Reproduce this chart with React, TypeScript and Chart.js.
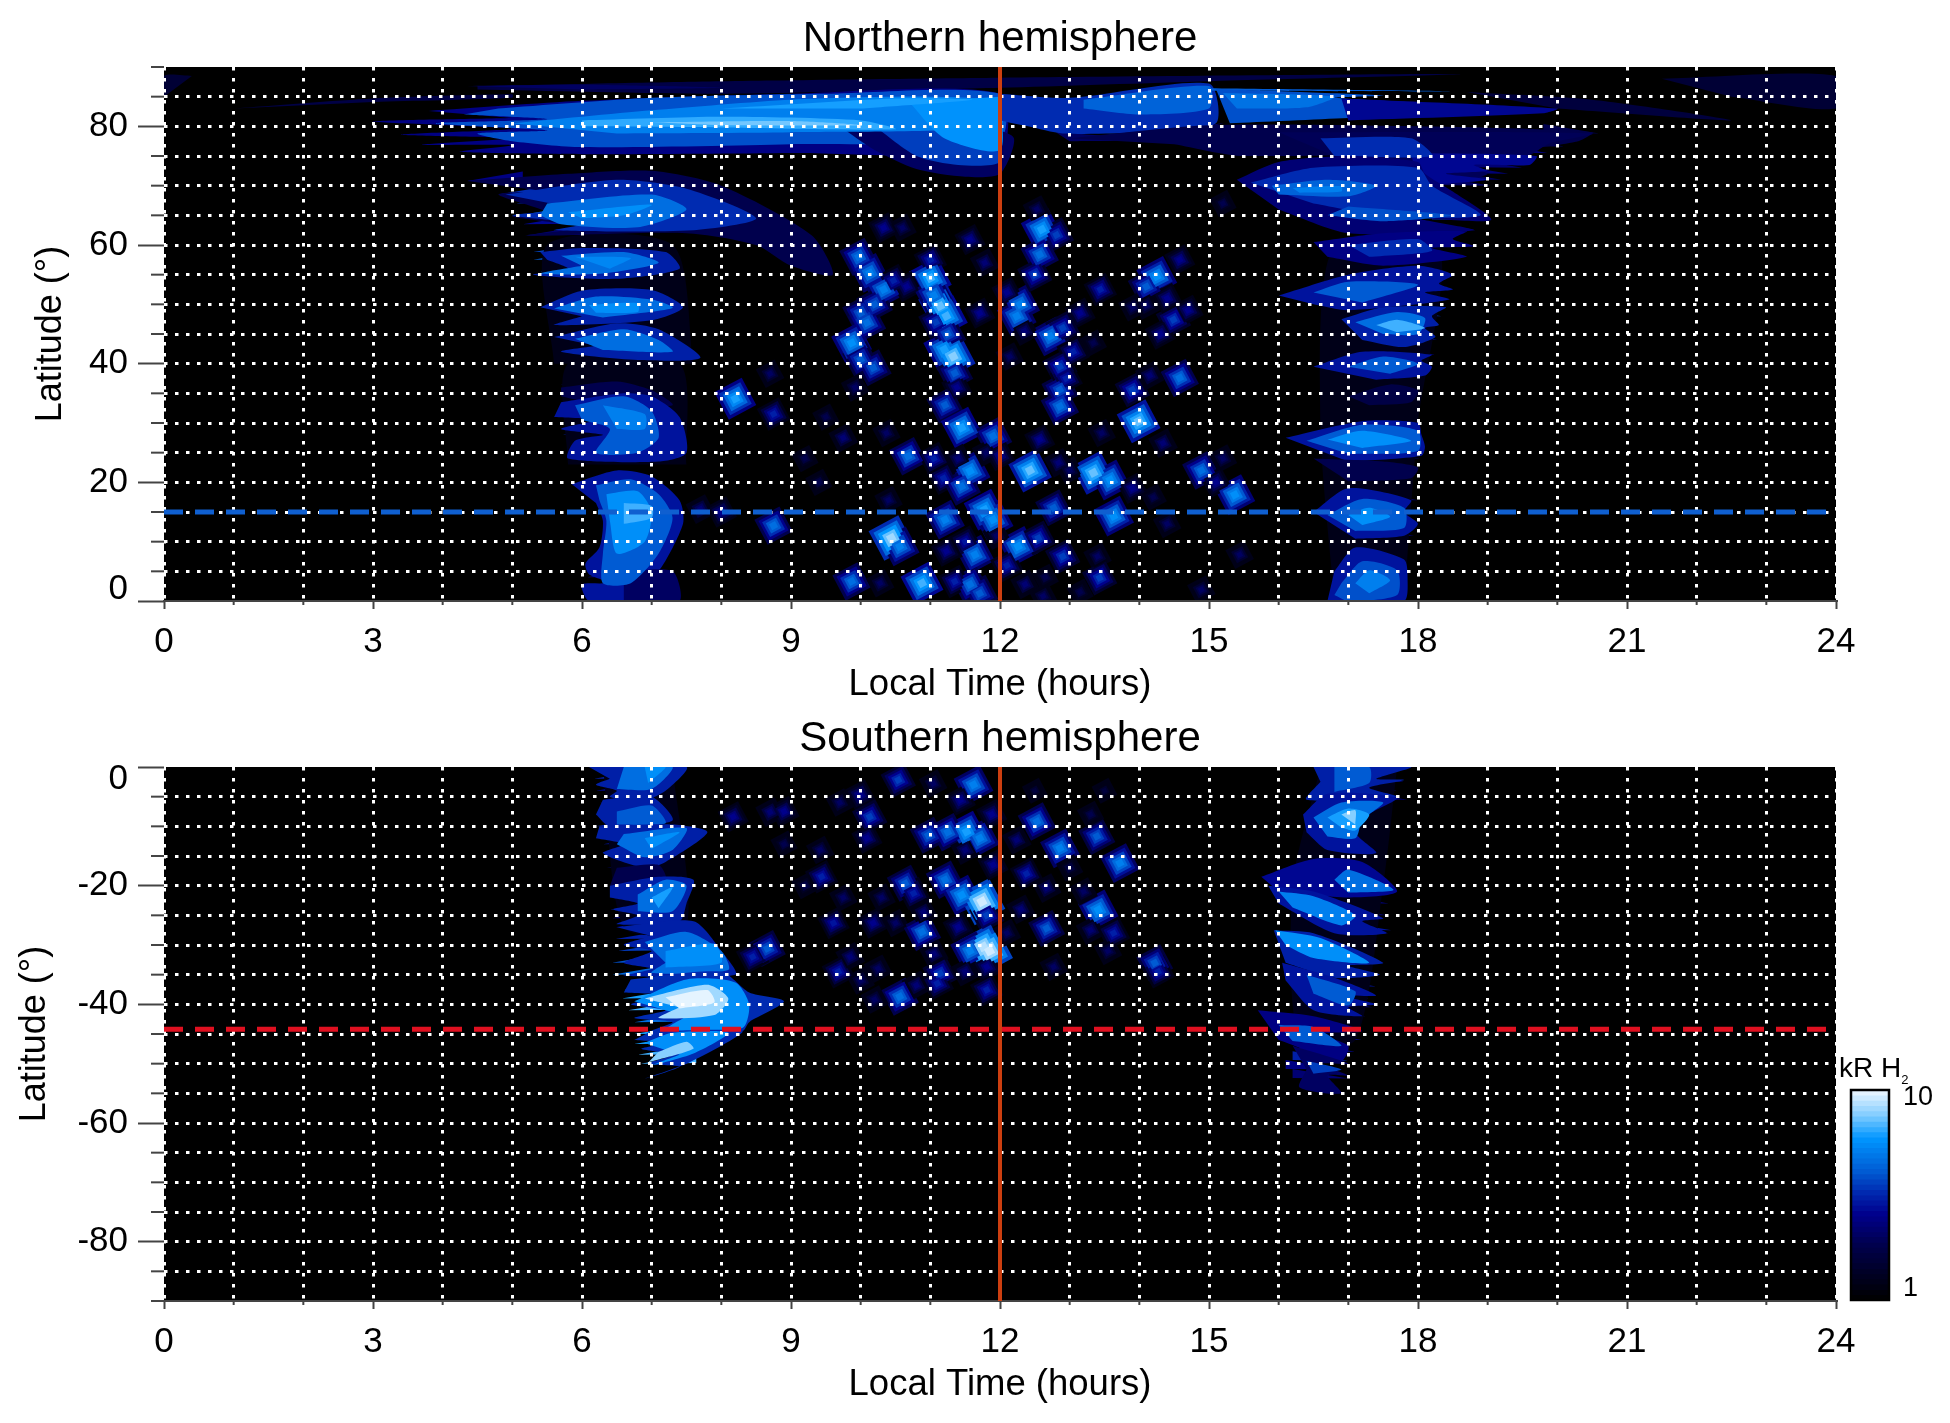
import { useEffect, useRef } from 'react'
import Chart from 'chart.js/auto'

const FONT = '"Liberation Sans", Arial, sans-serif'

const hourTicksMajor = 3
const noonLT = 12
const northRefLat = 15
const southRefLat = -44.2

// every patch: kR level, then lt,lat pairs going round the outline. Dim first, bright on top.
const northPolarPatches: number[][] = [
  [1.7, 4.5,86.8, 8,87.6, 12,88.2, 18.6,88.8, 15,87.6, 12,86.5, 8,85.5, 4.5,86.2],
  [1.7, 1,83, 3,84.7, 5,85.4, 5,84.8, 3,84.1],
  [1.5, 0,85, 0,88.5, 0.4,88.5],
  [1.5, 21.5,88, 24,88.5, 24,83, 22.5,85],
  [1.6, 18.7,85.8, 20.5,84.5, 22.5,81, 20,83],
  [2.4, 3.8,82.6, 6,84.3, 9,85.5, 12,85.5, 12,76, 9,75.5, 6,75.3, 4.25,75.7, 5,76.8, 3.7,76.9, 5,78, 3.4,78.6, 5,79.6, 3,80.8, 5,81.4],
  [2, 4.35,86.8, 6,87, 8,86.5, 6,86.2],
  [3.8, 4.8,83, 7,84.8, 9.5,85.5, 12,85.5, 12,78, 9,77, 6,76.5, 5,77.5, 4.5,78.8, 5.5,79.3, 3.9,80.5, 5.5,81.2, 4.3,82],
  [2, 9.7,80, 10.2,76, 10.8,72.8, 11.5,71.5, 12,72, 12.2,78, 11.8,80],
  [3.5, 10.2,80, 10.8,75, 11.4,73.5, 12,74, 12,80],
  [5, 5,80.5, 7,82.7, 9,84.5, 11,85, 12,84, 12,80, 9,79, 6.5,78.8],
  [5.6, 10.7,84, 11.2,78, 12,76, 12,85],
  [6.3, 6,81, 8,81.6, 10,81, 10.5,79.5, 8,79.8, 6,80],
  [6, 8,83, 10.5,84.7, 11.6,84.5, 10,83],
  [7.2, 7,80.7, 9,80.9, 10,80.2, 8,80.2],
  [2, 12.8,79, 13.8,78.4, 15.2,80.5, 14,77.8, 13,77.5],
  [3.2, 12,85.5, 13,84.8, 15,87.2, 15.1,80.5, 14,79, 12.9,78.8, 12.4,80, 12,81],
  [4.2, 13.2,84.5, 15,86.8, 15,83, 14,82, 13.2,83],
  [4, 15,86.4, 18.5,85.9, 15,86],
  [3.8, 15.1,86.3, 17.5,85.2, 16.8,84.8, 19.7,82.7, 17,81.4, 15.3,80.5],
  [4.6, 15.2,85.6, 16.8,85, 16.4,83.2, 15.4,83],
  [2.6, 16.9,84.7, 20,83, 19.8,82.2, 17,81],
]

const northDawnPatches: number[][] = [
  [1.8, 4.35,70.8, 5.8,72, 7,72.5, 8,70, 9.3,61.6, 9.6,55, 9,56.5, 8.5,60, 7.5,62, 5.2,61.6, 6,63, 5,64.8, 5.5,65.5, 4.8,68.5, 5.5,69],
  [3.2, 4.9,68.5, 6.5,71, 7.5,69.5, 8.5,64.5, 7.6,62.5, 5.6,62.5, 6,63.5, 5,65, 6,66],
  [4.5, 5.5,67, 7,68.5, 7.5,66, 6.8,63, 5.7,63.5, 5.4,65],
  [5.5, 5.8,65.5, 7,66.8, 6.6,65, 6,64.5],
  [3, 5.4,58.8, 6,59.5, 7.2,58.8, 7.4,56, 6.5,54.3, 5.3,55, 5.8,56, 5.5,57.5],
  [4.5, 5.7,58.2, 6.6,58.8, 7.1,57, 6.3,55.2, 5.4,55.2, 6,56.5],
  [5.2, 5.9,58, 6.7,57.8, 6.4,56],
  [3, 5.4,49.5, 6,52.3, 7,52.4, 7.45,49.5, 7,47.3, 5.6,46.5, 6,48],
  [4.5, 5.6,49.3, 6.2,51.3, 7,50.8, 7.3,49.4, 6.3,47.8],
  [5.5, 6.1,49.9, 6.8,50.2, 6.8,48.7, 6.2,48.6],
  [3, 5.6,44.5, 6.5,46.8, 7.1,45.8, 7.7,41, 6.8,40.6, 5.7,42, 6.2,43],
  [4.5, 5.9,44.2, 6.6,45.8, 7.1,44, 7.3,42, 6.3,42.3],
  [1.8, 5.7,36, 6.5,37, 7,35.5, 7.3,33, 6.3,33, 5.7,34.5],
  [2.8, 5.7,33.5, 6.6,35, 7,34.5, 7.4,31, 7.5,25, 7.1,23.5, 5.8,24, 5.9,27, 6.3,28, 5.7,29, 6.2,30.5, 5.6,31],
  [4, 5.9,33, 6.6,34.5, 7,32, 7.1,27.5, 6.8,25, 6.2,25, 6.4,29, 6,30.5],
  [5, 6.3,33, 6.9,31.5, 6.9,29, 6.5,29],
  [2.8, 5.85,19.7, 6.5,22, 7,21, 7.4,17, 7.45,13, 7.1,5, 6.6,0, 6.1,0, 6,2.8, 6.4,3, 6.1,4.5, 6.05,6.3, 6.25,9, 6.3,13.5, 6.2,16.5],
  [2, 6.6,5, 7.3,5, 7.4,0, 6.6,0],
  [4, 6.2,19.5, 6.7,20.5, 7.1,18, 7.3,14, 7.1,8, 6.7,3, 6.3,3, 6.3,8, 6.35,13.5, 6.25,17],
  [5.5, 6.35,18, 6.8,18.5, 7,15, 6.9,10, 6.5,8, 6.4,13.5],
  [6.5, 6.6,16.5, 7,16, 7,14, 6.6,13],
]

const northDuskPatches: number[][] = [
  [1.8, 13,78, 15,80.2, 18,80, 20.5,79, 20.3,77.5, 19.5,76.2, 15.5,75, 14.5,77],
  [1.9, 16,79, 20.5,78.8, 19.9,77.2, 19.7,75.8, 19.5,74.5, 18.7,73.5, 19,72, 18.6,70.8, 18,71, 17,74],
  [2.6, 17.9,75.5, 19.7,75, 19.6,73.5, 18.8,73.5, 19,72.5, 18.4,72, 19,71, 18,70],
  [3.2, 16.6,78, 17.9,78, 18.2,75, 16.8,75],
  [2.2, 15.4,71, 16,74, 17,75, 18,74, 18.1,72, 18.5,69, 19.05,64.2, 18,64.5, 18.8,62.5, 17,62, 16,66],
  [3.2, 15.6,70.5, 16.5,73, 18,73, 18.2,70, 18.9,65, 17.5,65, 16.5,67],
  [4.2, 15.9,70, 16.7,71, 17.4,70, 17,68.2, 16,68.5],
  [5, 16.2,69.6, 16.9,69.9, 16.9,69, 16.3,68.8],
  [3.8, 17,66.5, 18.5,65, 17.5,64, 16.7,65],
  [2.4, 16.5,60.5, 17.5,62, 18.7,62.3, 18.5,61, 18.8,59.8, 18.2,59.5, 18.7,58, 17.5,56.5, 16.7,58],
  [3.2, 17,60, 18,61, 18.2,59, 17.3,58],
  [2.8, 16,51.5, 17,55, 18,56.5, 18.5,55, 18.3,53.5, 18.5,52.5, 18.1,52, 18.45,50.8, 17,49, 16.5,50],
  [4, 16.5,52, 17,53.8, 18,53.3, 17.2,50.3],
  [3, 16.9,47.5, 17.5,49.5, 18.4,49.5, 18.2,48, 18.3,46.5, 18.1,46, 18.25,44.5, 17.8,42.8, 17.2,44],
  [4.5, 17.1,47, 17.7,48.7, 18.1,47.7, 18,45, 17.5,45],
  [6.5, 17.4,46.5, 17.7,47.4, 18.1,46, 17.7,45.3],
  [2.8, 16.5,39.5, 17.2,42, 18.2,41.5, 18.05,40.5, 18.2,39.5, 18.1,38, 17.4,37.3],
  [4, 17,39.5, 17.5,41.2, 18,40, 17.6,38.3],
  [1.7, 17,34.5, 17.6,36.5, 18,35.5, 17.9,33.5, 17.3,33],
  [2.8, 16.1,27.5, 17.2,30.3, 18,30, 18.05,28, 18.1,26, 18.05,24.5, 17,23.5],
  [4, 16.4,27, 17.2,29.7, 18,28.7, 18,25.3, 17,24.8],
  [5.5, 16.7,27.2, 17.2,28.7, 17.9,27, 17.2,25.8],
  [1.8, 16.5,24, 17.5,23.5, 18,22.5, 17.9,20.7, 17,20.2],
  [2.8, 16.5,15, 17,19, 17.9,17, 17.8,15, 18,13, 17.8,11, 17.1,10.5],
  [4, 16.7,14.5, 17.2,17.2, 17.8,15.7, 17.8,12.3, 17.1,11.8],
  [5.5, 17,14.5, 17.3,15.7, 17.6,14.2, 17.2,12.8],
  [2.8, 16.8,5, 17.1,9, 17.8,7, 17.85,4, 17.8,0, 16.7,0],
  [3.8, 16.9,3, 17.2,6.7, 17.7,5.2, 17.7,1, 17,0, 16.8,1],
  [5, 17.1,3, 17.3,5.2, 17.6,3.5, 17.3,1.3],
]

const southDawnPatches: number[][] = [
  [3, 6.1,0, 7.5,0, 7.2,-4, 6.8,-6, 6.4,-5, 6.5,-4, 6.2,-3, 6.4,-2],
  [4.5, 6.6,0, 7.3,0, 7,-3.7, 6.5,-3.7],
  [5.5, 6.9,0, 7.2,0, 6.95,-2.7],
  [3, 6.3,-5.5, 7,-5, 7.3,-9, 6.4,-10, 6.2,-8],
  [4, 6.5,-7.5, 7,-6.5, 7.2,-9.5, 6.5,-9.7],
  [3, 6.25,-10, 7.3,-9.7, 7.8,-11, 7.2,-16, 6.9,-17, 6.3,-14.5, 6.6,-13, 6.2,-12],
  [4.5, 6.6,-11.3, 7.5,-10.3, 7.3,-14, 6.9,-15.2, 6.5,-13],
  [5.5, 6.9,-12, 7.4,-11, 7,-13.8],
  [1.8, 6.5,-17, 7.1,-16.5, 7.2,-19, 6.4,-20],
  [3, 6.4,-20, 7.1,-18.5, 7.6,-19, 7.5,-23, 7.4,-26, 6.5,-26.5, 6.8,-25, 6.45,-24, 6.8,-23, 6.4,-22],
  [4.5, 6.8,-21.5, 7.2,-19, 7.5,-20, 7.3,-24.3, 6.8,-24.3],
  [6, 7,-22, 7.3,-20.3, 7.1,-23.8],
  [3, 6.5,-27, 7.6,-26, 8,-31, 8.2,-35, 6.6,-35.2, 7,-34, 6.6,-33, 7,-31, 6.6,-30, 7,-28.5],
  [4.5, 6.9,-29.5, 7.5,-27.8, 8,-31, 8.1,-34.2, 7,-34.7, 7.2,-33],
  [5.5, 7.2,-31, 7.9,-29.8, 8,-33, 7.2,-33.8],
  [3.2, 6.7,-35.8, 8,-34.5, 8.4,-38, 8.9,-39.5, 8.4,-43, 8.3,-44.5, 7,-44.5, 7.3,-43, 6.75,-42.3, 7.2,-41, 6.7,-40, 7.2,-38.5, 6.6,-38],
  [5.5, 6.75,-39.5, 7.5,-35.8, 8.2,-36.3, 8.4,-40, 8.3,-44, 7.2,-44.3, 7.5,-42],
  [8, 6.9,-39, 7.8,-36.7, 8.1,-39, 7.9,-41.8, 7.1,-42.3, 7.4,-40.5],
  [9.5, 7.2,-38.8, 7.8,-37.6, 7.9,-39.7, 7.4,-40.7],
  [3.2, 7,-44.5, 8.3,-44.5, 8,-47, 7.5,-50, 6.9,-52.5, 7.4,-50.5, 6.95,-50, 7.3,-48.5, 6.85,-47.5, 7.2,-46.5, 6.75,-46],
  [5.5, 6.9,-46.5, 7.3,-44.8, 8.1,-44.8, 7.6,-48.3, 7,-50.3, 7.4,-48.5],
  [7.5, 6.95,-49.8, 7.6,-47.5, 7.5,-46.3, 7.1,-48],
]

const southDuskPatches: number[][] = [
  [3, 16.5,0, 17.9,0, 17.4,-2, 17.8,-2.2, 17.3,-3.5, 17.7,-5, 16.4,-5.5, 16.6,-2.5],
  [4, 16.8,0, 17.3,0, 17.3,-2.7, 16.8,-4.2],
  [2.8, 16.35,-8, 16.7,-4.5, 17.7,-5.2, 17.3,-8, 17.1,-11, 17.4,-14.5, 16.7,-14, 16.4,-11],
  [4.5, 16.5,-8.5, 16.9,-6, 17.5,-6, 17.2,-9, 17.1,-12, 16.7,-11.7],
  [6, 16.7,-8.5, 17,-7, 17.3,-8, 17.1,-10.7, 16.9,-10.2],
  [7.5, 16.9,-8, 17.1,-7.3, 17.1,-9.7],
  [2.6, 15.75,-18.5, 16.5,-15.5, 17.2,-16, 17.7,-21, 17,-22, 16,-21],
  [4.5, 16.8,-19, 17,-17.3, 17.65,-20.7, 17,-21.2],
  [2.8, 15.85,-20, 16.5,-21, 17.5,-25.5, 17.2,-26, 17.55,-28, 16.8,-28, 16,-23],
  [5, 16,-21, 16.5,-21.8, 17.1,-25, 16.9,-26.7, 16.2,-23.7],
  [3, 15.93,-27.5, 16.5,-28, 17.5,-33, 17,-33.5, 17.45,-35, 16.8,-35.5, 16.1,-33],
  [5.5, 15.95,-27.5, 16.6,-28.8, 17.3,-33, 16.5,-32.2, 16.1,-30],
  [2.8, 16.05,-33, 16.8,-35.5, 17.4,-38.5, 16.9,-38.5, 17.4,-40, 17,-40.5, 17.2,-42, 16.5,-41, 16.1,-36],
  [4, 16.4,-35, 17.1,-37.8, 17,-40.2, 16.5,-38.2],
  [2.4, 15.7,-41, 16.5,-42, 17.2,-44.5, 16.6,-45, 17,-47, 16.9,-49.5, 16,-46],
  [4, 16,-43.5, 16.5,-43.8, 16.9,-47, 16.2,-46.2],
  [2, 16.2,-47, 17,-50, 16.6,-50, 17,-52, 16.7,-52, 16.9,-55, 16.3,-54, 16.4,-51],
  [3.5, 16.4,-49.5, 16.9,-51, 16.5,-51.7],
]

// dim glow behind the terminator columns
const northUnderlay: number[][] = [
  [1.2, 5.6,40, 5.5,60, 7.3,60, 7.6,40],
  [1.2, 5.8,23, 5.8,40, 7.4,40, 7.5,23],
  [1.2, 16.8,0, 16.6,30, 16.8,60, 18.3,60, 18,30, 17.8,0],
]

const southUnderlay: number[][] = [
  [1.2, 6.3,0, 6.6,-27, 7.5,-27, 7.3,0],
  [1.2, 16.6,0, 16.2,-20, 16.3,-46, 17.1,-46, 17.5,-20, 17.7,0],
]

// feather tips along the lobe edges: lat, tip lt, kR
const northDawnTeeth: number[][] = [
  [70.8,4.35,2.4],[68.5,4.8,3.2],[67,5.05,3],[64.8,5,4],[63.5,5.15,2.6],[61.6,5.2,2.2],[58.8,5.3,3.6],[57.5,5.3,4],
  [55.5,5.4,4.2],[53,5.55,2.2],[51,5.5,3],[49.5,5.45,4],[47,5.5,3],[45,5.6,3],[43,5.63,2.6],[41,5.63,2],[36.5,5.68,1.8],
  [34.5,5.72,2.4],[32,5.68,3.2],[30,5.72,3],[28,5.72,3],[26,5.8,2.4],[24,5.85,2],[19.7,5.85,4],[6,6.03,2.4],[4,6.07,2.6],
  [2.5,6.07,3],[1,6.12,3],
]

const northDuskTeeth: number[][] = [
  [78.8,20.6,1.8],[77.5,20.3,1.8],[76.6,20.1,2],[75.5,19.86,2.4],[74.5,19.7,2.4],[73,19.5,2.2],[72,19.3,2.2],[71,19.2,2],
  [70,19.05,2],[64.2,19,3],[62.5,18.83,2.4],[60,18.7,2],[58,18.5,2],[55,18.5,2],[52.5,18.4,2.2],[50,18.34,2.4],
  [48,18.34,3.2],[46,18.2,4],[44,18.28,2.6],[41.5,18.25,2.4],[39,18.2,2.4],[30,18.03,2.2],[28,18.03,2.8],[26,18.03,2.4],
  [24,18.03,2],[17,18,2.2],[15,17.95,2.8],[13,18,2.6],[11,17.95,2.2],[8,17.8,2.2],[5,17.85,2.6],[2,17.85,2.6],[0.5,17.8,2.6],
]

const southDawnTeeth: number[][] = [
  [-2,6.17,3],[-4,6.2,2.6],[-6,6.25,2.2],[-8,6.2,2.6],[-10,6.2,3],[-11,6.25,3],[-13,6.3,2.8],[-15,6.35,2.2],[-17,6.35,1.8],
  [-20,6.4,2.4],[-22,6.43,3],[-24,6.4,3],[-25.5,6.43,2.6],[-27,6.48,2.6],[-29,6.48,3],[-31,6.52,3.4],[-33,6.43,3.8],
  [-35,6.43,4.2],[-37.5,6.6,5],[-39,6.57,6],[-41,6.66,6.5],[-43,6.75,4.5],[-45,6.75,6],[-46.7,6.75,6],[-48.5,6.8,6.5],
  [-50,6.84,6.5],
]

const southDuskTeeth: number[][] = [
  [-0.5,17.85,2.6],[-2.5,17.8,2.6],[-4,17.7,2.2],[-5.5,17.85,2.2],[-21,17.67,3],[-23,17.58,2.4],[-25,17.55,2.4],[-27.5,17.62,2.8],
  [-28,17.58,2.4],[-32,17.36,3],[-33,17.45,3.6],[-35,17.45,3.2],[-37,17.4,2.8],[-39,17.3,2.8],[-40.5,17.35,2.2],[-42,17.25,2.2],
  [-44,17.15,2.2],[-46,17.2,2.4],[-48,17.1,2.6],[-49.5,17,3],[-51,16.9,2.4],[-52.5,17,2.2],
]

// small bright spots around noon: lt, lat, kR
const northSpecks: number[][] = [
  [10.33,62.9,2.5],[10.6,62.9,2],[9.97,58,4.5],[10.13,55.3,5],[10.33,52.5,5],[10,48.5,4],[10.09,46.9,4.5],
  [9.87,43.5,5.5],[10,40.7,4],[10.18,39.3,4],[9.92,36,2],[11,57.5,3],[11,54.4,6.5],[11.14,49.7,7],[11.23,48,6.5],
  [11.2,42.4,6],[11.33,41.2,7.5],[11.35,38.4,4],[11.38,36,2.5],[11.57,60.9,2.5],[11.78,57,2.2],[11.71,48.5,2.5],
  [10.66,53,2.5],[12.29,50,5],[12.24,48,5],[12.1,52,2.5],[12.6,62.6,6],[12.81,61.7,3.5],[12.57,58.4,4.5],
  [12.5,55,3.5],[12.53,66,2],[13.44,52.5,3],[13.15,48.5,2.5],[12.72,44.6,5],[12.9,46,3.5],[12.86,39.5,3.5],
  [12.86,35.6,4],[12.14,41.2,2],[13.34,43.5,1.8],[14.25,54.7,5.5],[14.1,53,4],[14.58,57.5,2.5],[14.49,47.4,3.5],
  [14.7,49,2.5],[14.58,37.6,4.5],[13.9,35.6,3.5],[15.2,67,1.8],
  [11.21,33,4],[11.45,29.2,6],[11.9,27.8,4.5],[12.86,32.8,4.5],[13.99,30.3,7],[14.34,26.6,2.2],[13.46,28.3,2],
  [9.75,27.5,2.2],[10.37,28.3,2],[10.68,24.4,4.5],[11.57,21.9,5.5],[11.19,20.7,3],[11.45,19.3,4.5],[12.43,22,7],
  [12.57,27.2,2.5],[12.84,23.3,2.2],[13.34,21.6,7],[13.58,20.4,5.5],[14.89,22,4.5],[15.37,17.9,5.5],[11.78,15.4,6],
  [11.9,13.7,5.5],[11.21,13.7,5],[12.77,15.7,4],[13.63,14.3,5.5],[14.4,13,2],[10.4,17,2],[10.44,10.6,8],[10.56,9.2,5],
  [11.64,7.8,5],[11.23,8.4,2.5],[12.26,9.2,5.5],[12.55,10.6,3.5],[12.9,7.5,3.5],[13.4,7.5,2],[13.43,3.9,3.5],
  [9.87,3.3,4.5],[10.28,3,2],[10.88,3,6.5],[11.57,2.8,4.5],[11.35,3.3,3],[11.71,1.3,4],[12.36,2.8,2.2],[12.62,0.8,2],
  [15.44,7.8,2],[14.89,1.9,2],[8.2,34.1,6],[8.7,38.3,2],[8.75,31.5,3],[8.75,12.7,4.5],[8,15,2.5],[7.7,15.5,2.2],
  [11.05,51.5,5],[11.08,47,3.5],[11.25,45,4],[10.2,50,4],[10.47,54,3],[12.35,45.5,2.2],[13.05,42,3],[12.95,37.5,3],
  [13.9,49.5,2],[14.1,49.8,2],[14.4,51,2.5],[14.3,45,2.5],[14.15,38,2.2],[11.8,25,2],[11.4,24,2.2],[11.05,24,3],
  [12,24.5,2.5],[13,22,2],[13.9,19,2.5],[14.2,17.5,1.8],[15.1,20,2.5],[15.2,24,2],[11.95,11,2],[12.1,6,3],[11.5,10,2.8],
  [12.65,4,1.8],[13.15,1.5,1.8],[9.4,20,1.8],[9.2,24,1.8],[9.5,31,1.8],
]

const southSpecks: number[][] = [
  [10.54,-2.2,3.5],[11.62,-3,5],[11.04,-2.8,2],[11.43,-5.6,2.5],[9.99,-4.7,2.5],[9.7,-6,2],[10.13,-8.4,3.5],[8.9,-7.5,2.5],
  [10.09,-12,2.5],[10.97,-11.5,4],[11.52,-10.9,6],[11.71,-12,5],[11.88,-8,2.5],[11.25,-11,4.5],[12.53,-9.2,4.5],
  [12.86,-13.7,5],[13.39,-11.7,4],[13.72,-16.2,5],[12.24,-12.3,2.2],[12.38,-18,3],[9.44,-18.5,3],[10.64,-19.6,4],
  [10.76,-21.3,3],[11.21,-19,4.5],[11.45,-21.6,5.5],[11.74,-22.7,9],[11.81,-25,3.5],[9.61,-26.3,2.8],[10.18,-26.3,2.5],
  [10.5,-26.3,2],[10.88,-27.8,4.5],[12.67,-20.4,2.2],[12.67,-27.2,4],[13.41,-24.1,5.5],[13.63,-28,3],[13.3,-27.5,2.2],
  [11.76,-30.3,8.5],[11.85,-31,9],[11.57,-31,5],[11.81,-33.7,2.5],[14.22,-33,4],[14.27,-34.5,3],[9.68,-34.5,3],[9.85,-32,2.2],
  [10.56,-38.7,4.5],[11.14,-34.8,3.5],[11.1,-36.5,3],[11.81,-37.6,3],[12.77,-33.7,2],[10.2,-39.2,2],
  [8.66,-30.6,4],[8.45,-32,3],[8.7,-7.6,2.2],[8.17,-8.4,2.5],[8.9,-13,1.8],[9.42,-14,2],
  [11.5,-14,2.2],[11.9,-16.5,2.5],[12.3,-24,2.2],[12.1,-28,2],[11.4,-27,2.5],[11.5,-34.5,2.2],[11.05,-31.5,2.2],[10.9,-24.5,2.2],
  [10.3,-22,2],[9.75,-22,2],[9.2,-20,1.8],[13.55,-31,2],[13.2,-21,2],[13,-17,1.8],[13.3,-8,1.8],[13.5,-4,1.6],[12.5,-4,1.6],
  [10,-36,2],[10.25,-34,2],[10.8,-36.8,2.2],
]

// colour bar steps in kR
const barLevels = [1, 1.06, 1.12, 1.19, 1.26, 1.33, 1.41, 1.5, 1.58, 1.68, 1.78, 1.88, 2, 2.11, 2.24, 2.37, 2.51, 2.66, 2.82, 2.99, 3.16, 3.35, 3.55, 3.76, 3.98, 4.22, 4.47, 4.73, 5.01, 5.31, 5.62, 5.96, 6.31, 6.68, 7.08, 7.5, 7.94, 8.41, 8.91, 9.44]

const colorStops = [
  [0, 0, 0, 0],
  [0.1, 0, 0, 30],
  [0.25, 0, 0, 75],
  [0.4, 0, 0, 140],
  [0.5, 0, 40, 175],
  [0.6, 0, 90, 210],
  [0.76, 0, 150, 255],
  [0.87, 130, 205, 255],
  [1, 250, 252, 255],
]

// size and brightness of the nested squares that make one speck, brightest first
const speckLayers = [
  [0.5, 1],
  [0.85, 0.88],
  [1.25, 0.72],
  [1.65, 0.55],
  [2.1, 0.4],
]

function kRColor(kR: number): string {
  const f = Math.min(1, Math.max(0, Math.log10(kR)))
  for (let i = 1; i < colorStops.length; i++) {
    const a = colorStops[i - 1]
    const b = colorStops[i]
    if (f <= b[0]) {
      const t = (f - a[0]) / (b[0] - a[0])
      return `rgb(${Math.round(a[1] + (b[1] - a[1]) * t)},${Math.round(a[2] + (b[2] - a[2]) * t)},${Math.round(a[3] + (b[3] - a[3]) * t)})`
    }
  }
  return 'rgb(250,252,255)'
}

function patchDataset(patch: number[], tension: number) {
  const pts = []
  for (let i = 1; i < patch.length; i += 2) pts.push({ x: patch[i], y: patch[i + 1] })
  return {
    type: 'line' as const,
    data: pts,
    fill: 'shape',
    backgroundColor: kRColor(patch[0]),
    borderWidth: 0,
    pointRadius: 0,
    tension,
  }
}

// a tooth is a thin triangle from its tip back into the lobe
function teethPatches(teeth: number[][], inward: number): number[][] {
  return teeth.map(([lat, tip, kR]) => [kR, tip, lat, tip + inward, lat + 1.6, tip + inward, lat + 0.1])
}

function speckDataset(specks: number[][], sizeK: number, levelK: number) {
  return {
    type: 'scatter' as const,
    data: specks.map(s => ({ x: s[0], y: s[1] })),
    pointStyle: 'rect',
    pointRotation: 62,
    pointRadius: specks.map(s => (5 + 7 * Math.log10(s[2])) * sizeK),
    pointBackgroundColor: specks.map(s => kRColor(Math.max(1.2, s[2] * levelK))),
    pointBorderWidth: 0,
  }
}

const blackPlot = {
  id: 'blackPlot',
  beforeDraw(chart: any) {
    const { ctx, chartArea: a } = chart
    ctx.save()
    ctx.fillStyle = '#000'
    ctx.fillRect(a.left, a.top, a.right - a.left, a.bottom - a.top)
    ctx.restore()
  },
}

interface HemisphereProps {
  top: number
  title: string
  teeth: number[][]
  patches: number[][]
  specks: number[][]
  latMin: number
  latMax: number
  refLat: number
  refColor: string
  yTitlePad: number
}

const Hemisphere = ({ top, title, teeth, patches, specks, latMin, latMax, refLat, refColor, yTitlePad }: HemisphereProps) => {
  const chartRef = useRef<HTMLCanvasElement>(null)

  useEffect(() => {
    if (!chartRef.current) return

    const overlay = {
      id: 'overlay',
      afterDraw(chart: any) {
        const { ctx, chartArea: a, scales } = chart
        ctx.save()
        // short ticks, the library only has one tick length per axis
        ctx.strokeStyle = '#444'
        ctx.lineWidth = 2
        scales.y.ticks.forEach((t: any) => {
          if (t.value % 20 === 0) return
          const py = scales.y.getPixelForValue(t.value)
          ctx.beginPath()
          ctx.moveTo(a.left - 13, py)
          ctx.lineTo(a.left, py)
          ctx.stroke()
        })
        scales.x.ticks.forEach((t: any) => {
          if (t.value % hourTicksMajor === 0) return
          const px = scales.x.getPixelForValue(t.value)
          ctx.beginPath()
          ctx.moveTo(px, a.bottom)
          ctx.lineTo(px, a.bottom + 4)
          ctx.stroke()
        })
        // reference lines sit above the dotted grid
        ctx.lineWidth = 5
        ctx.strokeStyle = refColor
        ctx.setLineDash([19, 12])
        const ry = scales.y.getPixelForValue(refLat)
        ctx.beginPath()
        ctx.moveTo(a.left, ry)
        ctx.lineTo(a.right, ry)
        ctx.stroke()
        ctx.setLineDash([])
        ctx.lineWidth = 4
        ctx.strokeStyle = '#cc3f10'
        const nx = scales.x.getPixelForValue(noonLT)
        ctx.beginPath()
        ctx.moveTo(nx, a.top)
        ctx.lineTo(nx, a.bottom)
        ctx.stroke()
        ctx.restore()
      },
    }

    // Chart.js paints the first dataset last, so the top layer comes first here
    const datasets: any[] = [
      ...speckLayers.map(([size, level]) => speckDataset(specks, size, level)),
      ...[...patches].reverse().map(p => patchDataset(p, 0.25)),
      ...teeth.map(p => patchDataset(p, 0)),
    ]

    // the end labels sit inside the axis range: a blank second line pushes them in
    const labelLines = (v: number) => {
      if (v !== 0) return v % 20 === 0 ? String(v) : ''
      return latMax === 0 ? ['', '0'] : ['0', '']
    }

    const chart = new Chart(chartRef.current, {
      type: 'scatter',
      data: { datasets },
      plugins: [blackPlot, overlay],
      options: {
        animation: false,
        responsive: false,
        devicePixelRatio: 1,
        layout: { padding: { right: 114 } },
        plugins: {
          legend: { display: false },
          tooltip: { enabled: false },
          title: {
            display: true,
            text: title,
            color: '#000',
            fullSize: false,
            font: { family: FONT, size: 42, weight: 'normal' },
            padding: { top: 14, bottom: 2.6 },
          },
        },
        scales: {
          x: {
            type: 'linear',
            min: 0,
            max: 24,
            afterFit: (s: any) => { s.height = 110 },
            // z above the grid layer, or the border is drawn before its position is known
            border: { display: true, color: '#444', width: 2, dash: [3.5, 7.5], z: 2 },
            grid: {
              z: 1,
              color: '#fff',
              lineWidth: 3,
              tickLength: 8,
              tickColor: (c: any) => (c.tick.value % hourTicksMajor === 0 ? '#444' : 'transparent'),
              tickWidth: 2,
            },
            ticks: {
              stepSize: 1,
              autoSkip: false,
              maxRotation: 0,
              padding: 12,
              color: '#000',
              font: { family: FONT, size: 35 },
              callback: (v: any) => (v % hourTicksMajor === 0 ? String(v) : ''),
            },
            title: {
              display: true,
              text: 'Local Time (hours)',
              color: '#000',
              font: { family: FONT, size: 36.5 },
              padding: { top: 0, bottom: 4 },
            },
          } as any,
          y: {
            type: 'linear',
            min: latMin,
            max: latMax,
            afterFit: (s: any) => { s.width = 164 },
            border: { display: false, dash: [3.5, 7.5] },
            grid: {
              z: 1,
              color: (c: any) => (c.tick.value === latMin || c.tick.value === latMax ? 'transparent' : '#fff'),
              lineWidth: 3,
              tickLength: 26,
              tickColor: (c: any) => (c.tick.value % 20 === 0 ? '#444' : 'transparent'),
              tickWidth: 2,
            },
            ticks: {
              stepSize: 5,
              autoSkip: false,
              padding: 10,
              color: '#000',
              font: (c: any) => ({ family: FONT, size: 35, lineHeight: c.tick && c.tick.value === 0 ? 24 / 35 : 1.2 }),
              callback: (v: any) => labelLines(v),
            },
            title: {
              display: true,
              text: 'Latitude (°)',
              color: '#000',
              font: { family: FONT, size: 36 },
              padding: { top: yTitlePad, bottom: 0 },
            },
          } as any,
        },
      },
    })

    return () => chart.destroy()
  }, [top, title, teeth, patches, specks, latMin, latMax, refLat, refColor, yTitlePad])

  return (
    <canvas
      ref={chartRef}
      width={1950}
      height={711}
      style={{ position: 'absolute', left: 0, top, width: 1950, height: 711 }}
    />
  )
}

const ColorBar = () => {
  const chartRef = useRef<HTMLCanvasElement>(null)

  useEffect(() => {
    if (!chartRef.current) return

    const frame = {
      id: 'frame',
      afterDraw(chart: any) {
        const { ctx, chartArea: a } = chart
        ctx.save()
        ctx.strokeStyle = '#000'
        ctx.lineWidth = 2.5
        ctx.strokeRect(a.left, a.top, a.right - a.left, a.bottom - a.top)
        ctx.restore()
      },
    }

    const chart = new Chart(chartRef.current, {
      type: 'bar',
      data: {
        labels: [''],
        datasets: barLevels
          .map(lv => ({
            data: [[lv, 10]] as any,
            backgroundColor: kRColor(lv + 0.02),
            borderWidth: 0,
            barPercentage: 1,
            categoryPercentage: 1,
            grouped: false,
          }))
          .reverse(),
      },
      plugins: [frame],
      options: {
        animation: false,
        responsive: false,
        devicePixelRatio: 1,
        layout: { padding: { left: 21, top: 40, bottom: 40 } },
        plugins: {
          legend: { display: false },
          tooltip: { enabled: false },
        },
        scales: {
          x: { display: false },
          y: {
            type: 'logarithmic',
            position: 'right',
            min: 1,
            max: 10,
            afterFit: (s: any) => { s.width = 61 },
            afterBuildTicks: (s: any) => { s.ticks = [{ value: 1 }, { value: 10 }] },
            border: { display: false },
            grid: { display: false },
            ticks: {
              padding: 6,
              color: '#000',
              font: (c: any) => ({ family: FONT, size: 27, lineHeight: c.tick && c.tick.value === 1 ? 22 / 27 : 16 / 27 }),
              callback: (v: any) => (v === 1 ? ['1', ''] : ['', '10']),
            },
          } as any,
        },
      },
    })

    return () => chart.destroy()
  }, [])

  return (
    <canvas
      ref={chartRef}
      width={120}
      height={290}
      style={{ position: 'absolute', left: 1830, top: 1050, width: 120, height: 290 }}
    />
  )
}

const northTeeth = [...teethPatches(northDawnTeeth, 0.8), ...teethPatches(northDuskTeeth, -0.8)]
const southTeeth = [...teethPatches(southDawnTeeth, 0.8), ...teethPatches(southDuskTeeth, -0.8)]
const northPatches = [...northUnderlay, ...northPolarPatches, ...northDawnPatches, ...northDuskPatches]
const southPatches = [...southUnderlay, ...southDawnPatches, ...southDuskPatches]

const App = () => (
  <div style={{ position: 'absolute', left: 0, top: 0, width: 1950, height: 1423, background: '#fff' }}>
    <Hemisphere top={0} title="Northern hemisphere" teeth={northTeeth} patches={northPatches} specks={northSpecks} latMin={0} latMax={90} refLat={northRefLat} refColor="#0f5fd0" yTitlePad={29} />
    <Hemisphere top={700} title="Southern hemisphere" teeth={southTeeth} patches={southPatches} specks={southSpecks} latMin={-90} latMax={0} refLat={southRefLat} refColor="#e01020" yTitlePad={13} />
    <ColorBar />
    <div style={{ position: 'absolute', left: 1839, top: 1052, font: `28px ${FONT}`, color: '#000', whiteSpace: 'nowrap' }}>
      kR H<sub style={{ fontSize: 13 }}>2</sub>
    </div>
  </div>
)

export default App
